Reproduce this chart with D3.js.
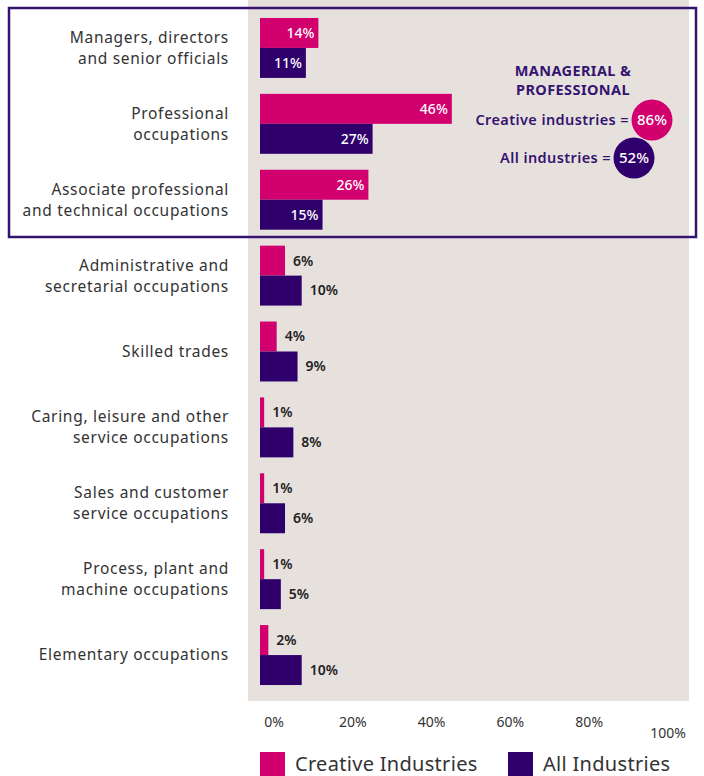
<!DOCTYPE html>
<html>
<head>
<meta charset="utf-8">
<script src="https://cdn.jsdelivr.net/npm/d3@7"></script>
<style>
  body { margin: 0; background: #fff; }
  text { font-family: "Noto Sans", "Open Sans", sans-serif; }
</style>
</head>
<body>
<div id="chart"></div>
<script>
var width = 704,
    height = 776;

// data
var categories = [
    ["Managers, directors", "and senior officials"],
    ["Professional", "occupations"],
    ["Associate professional", "and technical occupations"],
    ["Administrative and", "secretarial occupations"],
    ["Skilled trades"],
    ["Caring, leisure and other", "service occupations"],
    ["Sales and customer", "service occupations"],
    ["Process, plant and", "machine occupations"],
    ["Elementary occupations"]
];
var creative = [14, 46, 26, 6, 4, 1, 1, 1, 2];
var allInd = [11, 27, 15, 10, 9, 8, 6, 5, 10];
var tickValues = [0, 20, 40, 60, 80, 100];
var seriesNames = ["Creative Industries", "All Industries"];
var summaryTitle = ["MANAGERIAL &", "PROFESSIONAL"];
var summaryLabels = ["Creative industries =", "All industries ="];
var summaryValues = [86, 52];

var pink = "#d2006f",
    navy = "#2f006b",
    purple = "#35146f",
    grey = "#e7e1de",
    textCol = "#333";

var svg = d3.select("#chart")
    .append("svg")
    .attr("width", width)
    .attr("height", height);

// background panel
svg.append("rect")
    .attr("x", 248)
    .attr("y", 0)
    .attr("width", 441)
    .attr("height", 701)
    .attr("fill", grey);

var x = d3.scaleLinear()
    .domain([0, 100])
    .range([260, 677]);

var y = d3.scaleBand()
    .domain(d3.range(categories.length))
    .range([10, 693])
    .paddingInner(0.21)
    .paddingOuter(0.105);

var sub = d3.scaleBand()
    .domain([0, 1])
    .range([0, y.bandwidth()]);

var rows = categories.map(function (c, i) {
    return { i: i, label: c, values: [creative[i], allInd[i]] };
});

var groups = svg.append("g")
    .selectAll("g")
    .data(rows)
    .enter()
    .append("g")
    .attr("transform", function (d) { return "translate(0," + y(d.i) + ")"; });

// category labels
groups.each(function (d) {
    var g = d3.select(this);
    var n = d.label.length;
    d.label.forEach(function (line, k) {
        g.append("text")
            .attr("x", 229)
            .attr("y", y.bandwidth() / 2 + (k - (n - 1) / 2) * 21)
            .attr("dy", "0.35em")
            .attr("text-anchor", "end")
            .style("font-size", "15.5px")
            .style("letter-spacing", "0.7px")
            .style("fill", textCol)
            .text(line);
    });
});

var bars = groups.selectAll("g.bar")
    .data(function (d) {
        return d.values.map(function (v, k) { return { v: v, k: k, row: d.i }; });
    })
    .enter()
    .append("g")
    .attr("class", "bar");

bars.append("rect")
    .attr("x", x(0))
    .attr("y", function (d) { return sub(d.k); })
    .attr("width", function (d) { return x(d.v) - x(0); })
    .attr("height", sub.bandwidth())
    .attr("fill", function (d) { return d.k === 0 ? pink : navy; });

// value labels: inside for the top three rows, outside for the rest
bars.append("text")
    .attr("x", function (d) { return d.row < 3 ? x(d.v) - 4 : x(d.v) + 8; })
    .attr("y", function (d) { return sub(d.k) + sub.bandwidth() / 2; })
    .attr("dy", "0.35em")
    .attr("text-anchor", function (d) { return d.row < 3 ? "end" : "start"; })
    .style("font-size", "14px")
    .style("font-weight", function (d) { return d.row < 3 ? "500" : "600"; })
    .style("fill", function (d) { return d.row < 3 ? "#fff" : "#222"; })
    .text(function (d) { return d.v + "%"; });

// highlight box
svg.append("rect")
    .attr("x", 9)
    .attr("y", 8)
    .attr("width", 687)
    .attr("height", 229)
    .attr("fill", "none")
    .attr("stroke", purple)
    .attr("stroke-width", 2.5);

// summary annotation
var ann = svg.append("g");
summaryTitle.forEach(function (t, k) {
    ann.append("text")
        .attr("x", 573)
        .attr("y", 76 + k * 19)
        .attr("text-anchor", "middle")
        .style("font-size", "14.5px")
        .style("letter-spacing", "0.4px")
        .style("font-weight", "700")
        .style("fill", purple)
        .text(t);
});

var circX = [652, 634],
    circY = [120, 158];
summaryLabels.forEach(function (t, k) {
    ann.append("text")
        .attr("x", circX[k] - 23)
        .attr("y", circY[k])
        .attr("dy", "0.35em")
        .attr("text-anchor", "end")
        .style("font-size", "14.5px")
        .style("letter-spacing", "0.4px")
        .style("font-weight", "600")
        .style("fill", purple)
        .text(t);
    ann.append("circle")
        .attr("cx", circX[k])
        .attr("cy", circY[k])
        .attr("r", 20.5)
        .attr("fill", k === 0 ? pink : navy);
    ann.append("text")
        .attr("x", circX[k])
        .attr("y", circY[k])
        .attr("dy", "0.35em")
        .attr("text-anchor", "middle")
        .style("font-size", "15px")
        .style("font-weight", "500")
        .style("fill", "#fff")
        .text(summaryValues[k] + "%");
});

// axis labels (offset from the bars, as in the original)
var xt = d3.scaleLinear()
    .domain([0, 100])
    .range([274, 668]);

svg.append("g")
    .selectAll("text")
    .data(tickValues)
    .enter()
    .append("text")
    .attr("x", function (d) { return xt(d); })
    .attr("y", function (d) { return d === 100 ? 738 : 727; })
    .attr("text-anchor", "middle")
    .style("font-size", "14px")
    .style("fill", textCol)
    .text(function (d) { return d + "%"; });

// legend
var legX = [260, 508];
var legend = svg.append("g")
    .selectAll("g")
    .data(seriesNames)
    .enter()
    .append("g")
    .attr("transform", function (d, i) { return "translate(" + legX[i] + ",752)"; });

legend.append("rect")
    .attr("width", 25)
    .attr("height", 25)
    .attr("fill", function (d, i) { return i === 0 ? pink : navy; });

legend.append("text")
    .attr("x", 35)
    .attr("y", 12)
    .attr("dy", "0.35em")
    .style("font-size", "20px")
    .style("letter-spacing", "0.3px")
    .style("fill", textCol)
    .text(function (d) { return d; });
</script>
</body>
</html>
